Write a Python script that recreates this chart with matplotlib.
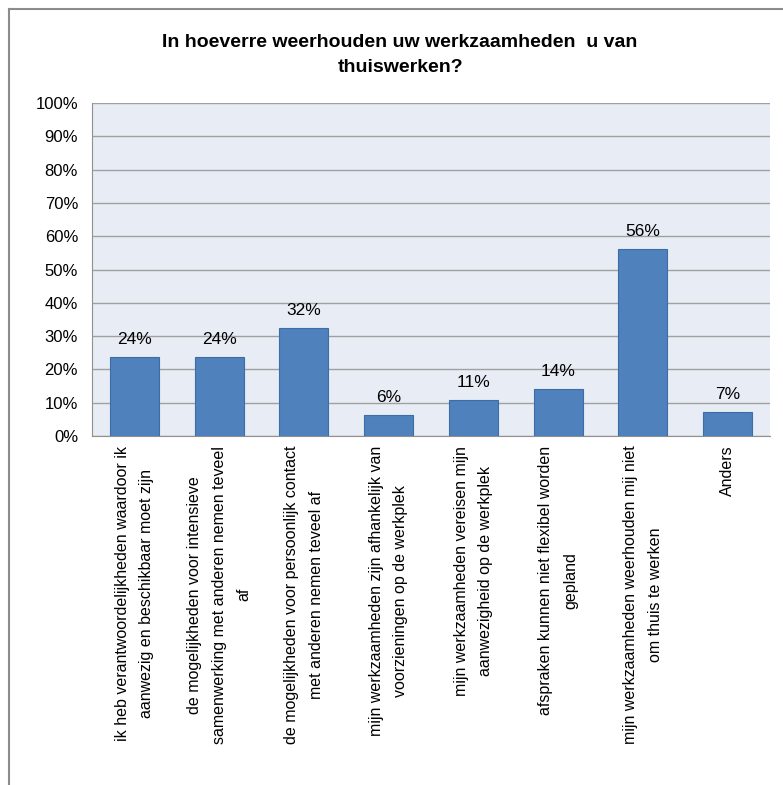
import matplotlib
matplotlib.use('Agg')
import matplotlib.pyplot as plt
from matplotlib.lines import Line2D

# ── Data ─────────────────────────────────────────────────────────
categories = [
    "ik heb verantwoordelijkheden waardoor ik\naanwezig en beschikbaar moet zijn",
    "de mogelijkheden voor intensieve\nsamenwerking met anderen nemen teveel\naf",
    "de mogelijkheden voor persoonlijk contact\nmet anderen nemen teveel af",
    "mijn werkzaamheden zijn afhankelijk van\nvoorzieningen op de werkplek",
    "mijn werkzaamheden vereisen mijn\naanwezigheid op de werkplek",
    "afspraken kunnen niet flexibel worden\ngepland",
    "mijn werkzaamheden weerhouden mij niet\nom thuis te werken",
    "Anders",
]
values = [23.8, 23.8, 32.4, 6.2, 10.7, 14.1, 56.2, 7.2]
yticks = [0, 10, 20, 30, 40, 50, 60, 70, 80, 90, 100]

plt.rcParams['font.family'] = ['Liberation Sans', 'DejaVu Sans']

# ── Plot ─────────────────────────────────────────────────────────
fig = plt.figure(figsize=(7.83, 7.85), dpi=100)
ax = fig.add_axes([92 / 783, 1 - 436 / 785, (770 - 92) / 783, (436 - 103) / 785])
ax.set_facecolor('#E7ECF5')

x = list(range(len(categories)))
ax.bar(x, values, width=0.58, color='#4F81BD', edgecolor='#3C6DA6', linewidth=0.8, zorder=3)

for xi, v in zip(x, values):
    ax.text(xi, v + 3.0, f"{round(v):d}%", ha='center', va='bottom', fontsize=12.5)

ax.set_xlim(-0.5, len(categories) - 0.5)
ax.set_ylim(0, 100)
ax.set_yticks(yticks)
ax.set_yticklabels([f"{t}%" for t in yticks], fontsize=12)
ax.yaxis.grid(True, color='#A0A0A0', linewidth=1.0, zorder=0)
ax.set_axisbelow(True)
ax.tick_params(axis='y', length=0, pad=10)
ax.tick_params(axis='x', length=0, pad=7)
ax.set_xticks(x)
ax.set_xticklabels(categories, rotation=90, ha='center', va='top', fontsize=11.5,
                   multialignment='center', linespacing=1.8)

for side in ['top', 'right']:
    ax.spines[side].set_visible(False)
ax.spines['left'].set_color('#909090')
ax.spines['bottom'].set_color('#909090')

# ── Title & frame ────────────────────────────────────────────────
fig.text(0.511, 1 - 55 / 785, "In hoeverre weerhouden uw werkzaamheden  u van\nthuiswerken?",
         ha='center', va='center', fontsize=14, fontweight='bold', linespacing=1.65)
fig.add_artist(Line2D([9 / 783, 1], [1 - 9 / 785, 1 - 9 / 785], color='#8C8C8C', linewidth=1.5))
fig.add_artist(Line2D([9 / 783, 9 / 783], [0, 1 - 9 / 785], color='#8C8C8C', linewidth=1.5))

fig.savefig('out.png', dpi=100)
